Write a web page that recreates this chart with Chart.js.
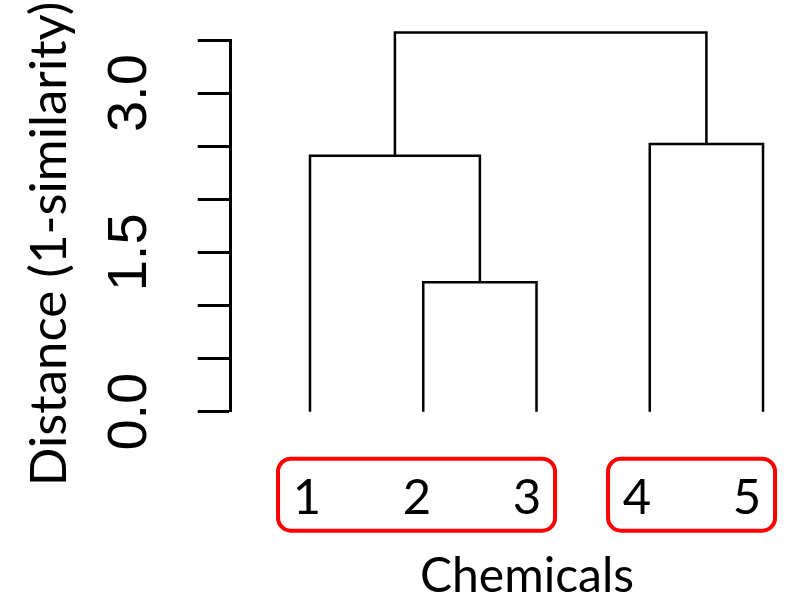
<!DOCTYPE html>
<html>
<head>
  <title>Chemical dendrogram</title>
  <script src="https://cdn.jsdelivr.net/npm/chart.js"></script>
  <style>
    body { margin: 0; background: #fff; }
    #wrap { width: 800px; height: 600px; }
  </style>
</head>
<body>
  <div id="wrap"><canvas id="myChart"></canvas></div>

  <script>
    // Leaves (chemicals) and their order along the x axis
    const leafNames = ['1', '2', '3', '4', '5'];
    const leafPos = [1, 2, 3, 4, 5];

    // Merges, R hclust style: negative = leaf, positive = earlier merge (1-based)
    const mergeLeft = [-2, -1, -4, 2];
    const mergeRight = [-3, 1, -5, 3];
    const mergeHeight = [1.22, 2.41, 2.52, 3.57];

    // Y axis ticks and which of them get a label
    const yTicks = [0, 0.5, 1, 1.5, 2, 2.5, 3, 3.5];
    const yTickLabels = ['0.0', '', '', '1.5', '', '', '3.0', ''];

    // Boxed groups of chemicals
    const groupStart = [1, 4];
    const groupEnd = [3, 5];

    // Work out x/y for every node and one step line per merge
    const nodeX = [], nodeY = [];
    function pos(id) {
      if (id < 0) return { x: leafPos[-id - 1], y: 0 };
      return { x: nodeX[id - 1], y: nodeY[id - 1] };
    }
    const datasets = [];
    for (let i = 0; i < mergeHeight.length; i++) {
      const a = pos(mergeLeft[i]), b = pos(mergeRight[i]);
      const h = mergeHeight[i];
      nodeX.push((a.x + b.x) / 2);
      nodeY.push(h);
      datasets.push({
        data: [{ x: a.x, y: a.y }, { x: a.x, y: h }, { x: b.x, y: h }, { x: b.x, y: b.y }],
        borderColor: '#000',
        borderWidth: 2.5,
        pointRadius: 0,
        tension: 0,
        fill: false,
        clip: false,
        xAxisID: 'x',
        yAxisID: 'y'
      });
    }

    // red rounded boxes round the label groups, plus the two axis titles
    const extras = {
      id: 'extras',
      afterDraw(chart) {
        const ctx = chart.ctx;
        const xl = chart.scales.xl;
        const bottom = chart.chartArea.bottom;
        ctx.save();
        ctx.strokeStyle = '#ff0000';
        ctx.lineWidth = 4;
        for (let i = 0; i < groupStart.length; i++) {
          const x0 = xl.getPixelForValue(groupStart[i]) - 29;
          const x1 = xl.getPixelForValue(groupEnd[i]) + 28;
          ctx.beginPath();
          ctx.roundRect(x0, bottom + 47, x1 - x0, 72, 13);
          ctx.stroke();
        }
        ctx.fillStyle = '#000';
        ctx.textAlign = 'center';
        ctx.textBaseline = 'middle';
        ctx.font = '48px Lato';
        ctx.fillText('Chemicals', 527, 577);
        ctx.translate(50, 244);
        ctx.rotate(-Math.PI / 2);
        ctx.font = '51px Lato';
        ctx.fillText('Distance (1-similarity)', 0, 0);
        ctx.restore();
      }
    };

    const ctx = document.getElementById('myChart').getContext('2d');
    new Chart(ctx, {
      type: 'line',
      data: { datasets: datasets },
      plugins: [extras],
      options: {
        responsive: true,
        maintainAspectRatio: false,
        animation: false,
        layout: { padding: { top: 40, right: 3, left: 0, bottom: 0 } },
        plugins: { legend: { display: false }, tooltip: { enabled: false } },
        scales: {
          x: {
            type: 'linear',
            min: 0.3,
            max: 5.3,
            display: false
          },
          xl: {
            type: 'linear',
            position: 'bottom',
            min: 0.306,
            max: 5.454,
            grid: { display: false },
            border: { display: false },
            afterBuildTicks: s => { s.ticks = leafPos.map(v => ({ value: v })); },
            afterFit: s => {
              s.height = 188.3;
              s.paddingLeft = 0;
              s.paddingRight = 0;
            },
            ticks: {
              autoSkip: false,
              maxRotation: 0,
              padding: 49,
              color: '#000',
              font: { family: 'Lato', size: 49 },
              callback: (v) => leafNames[leafPos.indexOf(v)] || ''
            }
          },
          y: {
            type: 'linear',
            min: 0,
            max: 3.5,
            afterBuildTicks: s => { s.ticks = yTicks.map(v => ({ value: v })); },
            afterFit: s => {
              s.width = 230.7;
              s.paddingTop = 0;
              s.paddingBottom = 0;
            },
            border: { display: true, color: '#000', width: 3 },
            grid: {
              drawOnChartArea: false,
              drawTicks: true,
              tickLength: 33,
              tickWidth: 3,
              tickColor: '#000'
            },
            ticks: {
              autoSkip: false,
              minRotation: 90,
              maxRotation: 90,
              crossAlign: 'center',
              padding: 28,
              color: '#000',
              font: { family: 'Liberation Sans', size: 56 },
              callback: (v) => yTickLabels[yTicks.indexOf(v)] || ''
            }
          }
        }
      }
    });
  </script>
</body>
</html>
